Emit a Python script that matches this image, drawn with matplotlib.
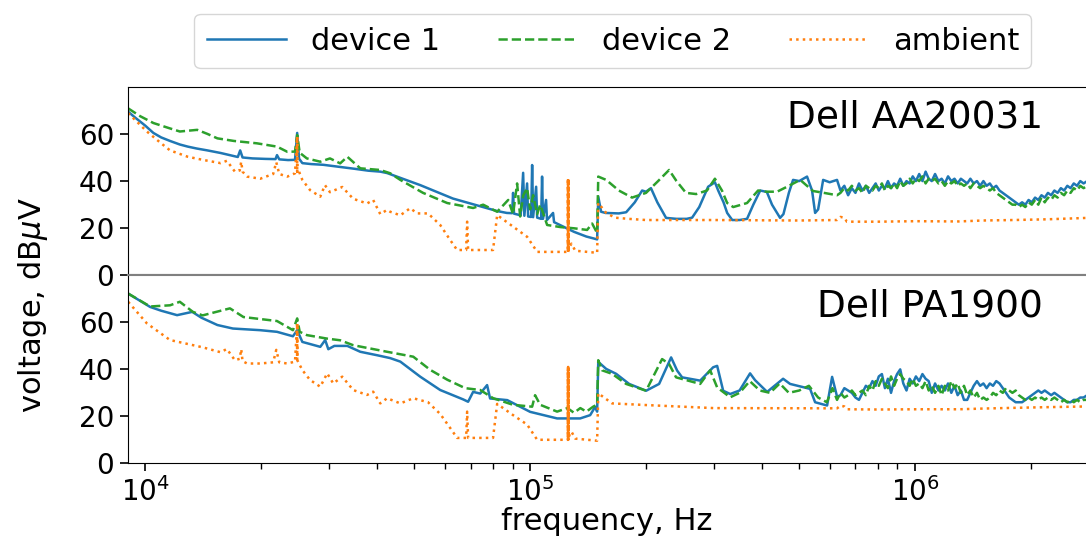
# Conducted emission spectra, two Dell power supplies
import matplotlib
matplotlib.use('Agg')
import matplotlib.pyplot as plt
import numpy as np

# shared frequency grid for the noisy high band (kHz)
f_hi = [640, 655, 670, 685, 700, 715, 730, 745, 760, 775, 790, 805, 820, 835, 850,
        866, 882, 898, 915, 932, 950, 968, 986, 1005, 1025, 1045, 1065, 1085, 1105,
        1127, 1150, 1172, 1195, 1218, 1242, 1266, 1290, 1315, 1340, 1366, 1392, 1420,
        1448, 1476, 1505, 1534, 1564, 1594, 1625, 1657, 1690, 1722, 1756, 1790, 1825,
        1860, 1897, 1934, 1972, 2010, 2050, 2090, 2130, 2172, 2214, 2257, 2301, 2346,
        2392, 2439, 2486, 2535, 2584, 2635, 2686, 2740, 2800]

# ---- Dell AA20031 ----
f_a1 = [9.03, 9.4, 10.0, 10.5, 11.0, 11.6, 12.3, 12.9, 13.6, 14.5, 15.7, 16.6, 17.4,
        17.65, 17.9, 19.0, 20.5, 21.8, 22.0, 22.3, 23.5, 24.5, 24.82, 25.1, 25.6, 27.0,
        29.0, 32.1, 35.0, 38.0, 40.8, 42.5, 51.8, 63.0, 82.1, 84.0, 87.0, 89.8, 90.3,
        90.8, 94.5, 95.9, 96.6, 98.2, 98.8, 100.6, 101.2, 101.8, 103.65, 104.3, 106.8,
        107.4, 108.0, 110.0, 110.6, 114.7, 115.4, 130, 140, 149.3, 150.3, 152.9, 157,
        170, 177.6, 187, 195.4, 200, 206, 214, 225.5, 240, 255, 263.5, 275, 290, 302,
        308, 318, 325, 335, 350, 366, 380, 396, 412, 425, 446, 455, 470, 482, 500, 524,
        540, 550, 560, 577, 600, 627]
v_a1 = [69.4, 67.0, 63.5, 60.4, 58.5, 57.0, 55.5, 54.6, 53.8, 53.0, 51.9, 51.0, 50.2,
        53.0, 50.0, 49.6, 49.4, 49.3, 51.0, 49.2, 48.9, 49.0, 60.4, 49.5, 47.6, 47.2,
        46.9, 46.0, 45.2, 44.4, 44.0, 43.4, 38.3, 32.6, 27.3, 27.0, 26.5, 26.4, 35.0,
        26.2, 25.5, 43.5, 25.3, 39.0, 25.0, 24.8, 46.8, 24.7, 37.6, 24.5, 24.0,
        41.9, 24.0, 32.0, 23.5, 26.5, 22.6, 18.5, 16.5, 15.3, 33.4, 27.0, 26.5,
        26.3, 26.8, 31.0, 36.0, 35.5, 37.0, 31.0, 24.4, 24.0, 24.0, 24.5, 29.0, 37.6, 39.5,
        36.0, 31.0, 26.5, 23.5, 23.5, 24.0, 30.0, 36.0, 35.4, 30.0, 24.4, 26.0, 35.0, 40.5, 40.0, 41.9,
        36.0, 26.5, 28.0, 40.5, 39.5, 40.5]
v_a1_hi = [36, 38, 34, 37, 35, 39, 36, 38, 35, 37, 39, 36, 38, 37, 40, 37, 39, 38, 41,
           38, 40, 39, 42, 40, 43, 40, 44, 41, 40, 43, 40, 41, 39, 42, 40, 41, 39, 41,
           40, 39, 41, 39, 40, 38, 40, 38, 39, 37, 38, 36, 35, 34, 33, 32, 31, 30, 31,
           30, 32, 31, 33, 32, 34, 33, 35, 34, 36, 35, 37, 36, 38, 37, 39, 38, 40, 39, 40]

f_a2 = [9.03, 9.7, 10.5, 11.5, 12.3, 13.65, 14.5, 15.4, 17.0, 18.0, 19.5, 22.0, 23.4,
        24.5, 24.82, 25.2, 26.3, 28.5, 30.2, 32.1, 33.5, 36.2, 40.8, 43.3, 46.0, 52.7,
        60.9, 71.1, 75.5, 82.1, 87.7, 90.3, 92.5, 94.2, 96.0, 98.2, 100, 101.8, 104.3,
        106.2, 110.7, 120, 130, 140.6, 144.9, 149.3, 150.3, 157.6, 170, 184, 200, 215,
        229.6, 240, 254, 270, 288, 302, 315, 325, 337, 366, 391, 410, 438, 465, 503,
        543, 580, 627]
v_a2 = [70.8, 67.5, 64.6, 62.5, 61.0, 61.7, 60.0, 58.1, 57.0, 56.6, 56.0, 54.6, 52.4,
        52.5, 59.5, 52.0, 49.6, 48.2, 49.6, 47.5, 50.3, 45.4, 44.7, 43.3, 40.5, 35.0,
        30.7, 28.6, 30.0, 27.0, 32.0, 26.0, 39.0, 25.0, 34.0, 37.0, 28.0, 34.0, 26.0,
        30.0, 21.4, 20.5, 20.0, 19.3, 22.0, 18.0, 41.9, 40.5, 36.0, 33.0, 35.0, 40.0,
        44.7, 40.0, 35.0, 34.5, 36.0, 41.0, 36.0, 30.7, 29.0, 30.7, 36.0, 35.5, 35.5, 37.6, 40.5,
        35.8, 35.0, 34.0]
v_a2_hi = [35, 37, 36, 38, 36, 37, 35, 38, 37, 36, 38, 37, 39, 36, 38, 37, 39, 37, 40,
           38, 39, 41, 39, 41, 40, 42, 39, 41, 40, 41, 39, 40, 38, 40, 39, 40, 38, 39,
           38, 39, 37, 39, 38, 37, 38, 37, 36, 37, 35, 34, 33, 32, 31, 30, 30, 29, 30,
           29, 31, 30, 32, 30, 33, 31, 33, 32, 34, 33, 35, 34, 36, 35, 37, 36, 38, 37, 38]

f_aa = [9.03, 10.1, 11.0, 11.6, 12.9, 14.1, 15.7, 16.3, 17.1, 17.6, 17.76, 17.9, 18.4,
        19.9, 21.5, 21.9, 22.3, 23.4, 24.5, 24.82, 24.82, 24.82, 24.82, 25.1, 25.6, 26.8, 28.5,
        29.3, 30.2, 32.5, 34.7, 37.7, 39.1, 40.8, 42.5, 43.3, 46.0, 48.8, 50.9, 54.3,
        58.4, 62.0, 64.6, 68.2, 68.6, 69.0, 80.1, 82.1, 90.3, 98.2, 104.3, 121, 125.5,
        125.5, 125.5, 125.5, 125.5, 125.5, 125.5, 125.5, 125.5, 126.5, 128, 131, 149.3,
        150.3, 157.6, 166, 180, 200, 300,
        500, 627, 640, 655, 665, 800, 1000, 1300, 1500, 1800, 2200, 2800]
v_aa = [68.8, 61.0, 56.0, 53.0, 50.3, 49.0, 47.6, 48.6, 44.0, 44.5, 48.2, 44.0, 41.9,
        41.0, 43.0, 48.0, 43.0, 41.9, 43.3, 58.8, 44.0, 58.8, 44.0, 44.0, 40.5, 36.2, 33.4,
        38.3, 35.3, 37.5, 32.5, 30.5, 32.0, 26.0, 27.8, 27.0, 25.5, 28.5, 26.3, 26.3,
        21.4, 15.0, 10.8, 10.8, 22.8, 10.8, 10.8, 25.6, 20.7, 16.4, 10.0, 10.0, 10.0,
        41.2, 10.0, 40.8, 10.3, 40.5, 10.6, 41.0, 10.0, 12.0, 13.5, 10.5, 9.6,
        30.7, 26.5, 24.5, 24.0, 23.5, 23.5,
        23.3, 23.5, 24.8, 24.5, 22.8, 22.8, 23.0, 22.9, 23.3, 23.5, 23.8, 24.4]

# ---- Dell PA1900 ----
f_b1 = [9.03, 10.3, 11.0, 12.1, 13.25, 14.0, 15.4, 16.9, 19.9, 22.0, 24.2, 24.82, 25.6,
        28.5, 29.35, 29.9, 31.0, 33.5, 36.2, 40.1, 43.3, 46.0, 51.8, 58.4, 67.0, 69.0,
        71.1, 74.2, 77.3, 78.7, 87.2, 100, 117.5, 134.9, 143.2, 147.5, 149.3, 150.3,
        157.6, 167.3, 180.8, 200.1, 216.3, 232.4, 240.9, 248.2, 276.5, 298.9, 306.1,
        317.3, 330.9, 350, 372.7, 384, 412.7, 454.1, 473.5, 533.7, 549.9, 590.8, 608.8,
        627.3]
v_b1 = [72.3, 66.6, 65.0, 63.1, 64.5, 62.0, 58.9, 57.4, 56.7, 56.0, 54.1, 56.7, 51.7,
        49.6, 52.5, 48.6, 50.0, 50.0, 47.5, 46.0, 44.8, 43.3, 36.9, 31.2, 27.2, 26.2,
        30.4, 29.7, 33.3, 27.6, 26.9, 21.9, 19.1, 19.1, 20.5, 24.0, 22.0, 43.2,
        40.2, 38.1, 33.8, 30.9, 33.8, 45.1, 39.5, 36.6, 35.2, 40.9, 41.5,
        30.9, 29.5, 31.0, 38.3, 35.4, 30.4, 36.0, 33.8, 31.7, 26.0, 24.6, 36.8,
        28.3]
v_b1_hi = [29, 32, 31, 30, 28, 27, 30, 33, 32, 35, 33, 37, 38, 32, 36, 30, 35, 38, 40,
           34, 31, 36, 34, 37, 35, 38, 36, 35, 30, 34, 31, 33, 31, 34, 30, 33, 29, 31,
           27, 27, 30, 33, 35, 33, 34, 32, 34, 33, 35, 34, 32, 30, 28, 27, 26, 26, 26,
           27, 28, 29, 30, 31, 30, 31, 30, 29, 30, 29, 28, 27, 26, 26, 27, 27, 28, 28, 29]

f_b2 = [9.03, 10.3, 11.6, 12.3, 13.3, 14.1, 16.6, 18.0, 22.0, 24.2, 24.82, 25.2, 26.3,
        29.7, 32.1, 34.7, 38.4, 42.5, 49.7, 55.0, 60.9, 67.8, 74.2, 80.2, 90.3, 101.2,
        103, 106.2, 117.5, 125, 130, 135, 140, 145.8, 149.3, 150.3, 153.8, 163.3, 177.6,
        200.1, 220.2, 229.6, 239.4, 276.5, 293.5, 306.1, 330.9, 350, 372, 395, 420, 445,
        470, 500, 530, 560, 590, 610, 627]
v_b2 = [72.3, 66.8, 67.3, 68.8, 64.5, 63.0, 66.0, 62.3, 60.6, 56.7, 61.7, 56.0, 54.6,
        53.1, 52.4, 50.3, 48.9, 47.5, 45.4, 39.8, 35.6, 32.0, 31.2, 27.7, 24.9, 24.1,
        29.0, 24.9, 22.0, 23.5, 21.5, 23.5, 22.0, 24.1, 25.0, 43.9, 39.6, 38.1, 33.8,
        30.9, 44.4, 42.3, 36.6, 33.8, 39.6, 32.3, 28.1, 30.0, 35.0, 31.0, 30.0, 34.0,
        30.0, 31.0, 33.0, 28.0, 26.0, 32.0, 27.0]
v_b2_hi = [30, 28, 29, 31, 29, 30, 31, 29, 33, 31, 35, 33, 36, 34, 32, 37, 33, 36, 38,
           36, 35, 33, 36, 33, 34, 32, 35, 31, 33, 30, 33, 29, 33, 31, 35, 32, 34, 30,
           33, 29, 31, 28, 30, 27, 28, 27, 28, 30, 29, 31, 30, 32, 31, 30, 31, 29, 28,
           27, 28, 27, 28, 27, 28, 27, 28, 27, 28, 27, 26, 27, 26, 27, 26, 27, 26, 27, 27]

f_ba = [9.03, 10.1, 11.6, 14.1, 15.7, 16.3, 17.1, 17.6, 17.76, 17.9, 18.4, 19.9, 21.5,
        21.9, 22.3, 23.4, 24.5, 24.82, 24.82, 24.82, 24.82, 25.6, 26.8, 28.5, 29.7, 30.8,
        32.5, 34.7, 37.7, 39.1, 40.8, 42.5, 46.0, 49.7, 54.3, 58.4, 62.0, 64.6, 68.2,
        68.6, 69.0, 80.1, 82.1, 90.3, 98.2, 104.3, 121, 125.5, 125.5, 125.5, 125.5,
        125.5, 125.5, 125.5, 125.5, 125.5, 126.5, 128, 131, 149.3, 150.3, 163.3, 200,
        300, 627, 640, 655, 665, 800, 1000,
        1300, 1500, 1800, 2200, 2800]
v_ba = [68.8, 59.6, 52.5, 49.4, 47.3, 48.7, 43.9, 44.5, 48.6, 43.5, 42.5, 42.5, 43.0,
        48.3, 43.0, 42.5, 43.3, 59.6, 44.0, 59.6, 44.0, 39.7, 35.5, 32.6, 38.3, 34.0,
        36.9, 31.2, 29.1, 30.5, 25.5, 27.7, 25.5, 27.7, 26.0, 21.0, 15.0, 10.8, 10.8,
        22.0, 10.8, 10.8, 25.3, 20.5, 16.5, 10.0, 10.0, 10.0, 41.0, 10.0, 40.6, 10.3,
        40.3, 10.6, 40.8, 10.0, 12.0, 13.5, 10.5, 9.6, 29.8, 25.5, 24.8,
        23.5, 23.4, 24.5, 24.2, 23.0, 22.9, 23.0,
        23.0, 23.3, 23.6, 23.9, 24.2]

labels = ['device 1', 'device 2', 'ambient']
titles = ['Dell AA20031', 'Dell PA1900']

kBlue = '#1f77b4'
kGreen = '#2ca02c'
kOrange = '#ff7f0e'

fig = plt.figure(figsize=(10.86, 5.45), dpi=100)
ax1 = fig.add_axes([0.118, 0.4945, 0.882, 0.3465])
ax2 = fig.add_axes([0.118, 0.150, 0.882, 0.3445], sharex=ax1)

f_hi_hz = np.array(f_hi) * 1e3
panels = [
    (ax1, f_a1, v_a1, v_a1_hi, f_a2, v_a2, v_a2_hi, f_aa, v_aa),
    (ax2, f_b1, v_b1, v_b1_hi, f_b2, v_b2, v_b2_hi, f_ba, v_ba),
]
for i, (ax, fa, va, vah, fb, vb, vbh, fc, vc) in enumerate(panels):
    x1 = np.concatenate([np.array(fa) * 1e3, f_hi_hz])
    y1 = np.concatenate([va, vah])
    x2 = np.concatenate([np.array(fb) * 1e3, f_hi_hz])
    y2 = np.concatenate([vb, vbh])
    ax.plot(x1, y1, color=kBlue, lw=1.8, label=labels[0])
    ax.plot(x2, y2, color=kGreen, lw=1.8, ls='--', label=labels[1])
    ax.plot(np.array(fc) * 1e3, vc, color=kOrange, lw=1.8, ls=':', label=labels[2])
    ax.set_xscale('log')
    ax.set_xlim(9030, 2.78e6)
    ax.set_ylim(0, 80)
    ax.set_yticks([0, 20, 40, 60])
    ax.tick_params(axis='both', which='major', labelsize=20, length=6, width=1.2, pad=4)
    ax.tick_params(axis='both', which='minor', length=4, width=1.0)
    ax.text(0.955, 0.93, titles[i], transform=ax.transAxes, ha='right', va='top',
            fontsize=27)
    ax.spines['right'].set_visible(False)

# middle boundary drawn in grey
ax1.spines['bottom'].set_color('#808080')
ax1.spines['bottom'].set_linewidth(1.5)
ax2.spines['top'].set_color('#808080')
ax2.spines['top'].set_linewidth(1.5)
ax1.tick_params(axis='x', which='both', length=0, labelbottom=False)

ax2.set_xlabel('frequency, Hz', fontsize=22, labelpad=0)
fig.text(0.030, 0.44, r'voltage, dB$\mu$V', rotation=90, fontsize=22,
         ha='center', va='center')

ax1.legend(ncol=3, loc='lower center', bbox_to_anchor=(0.506, 1.10), fontsize=22,
           handlelength=2.6, columnspacing=1.9, borderaxespad=0)

fig.savefig('out.png', dpi=100)
